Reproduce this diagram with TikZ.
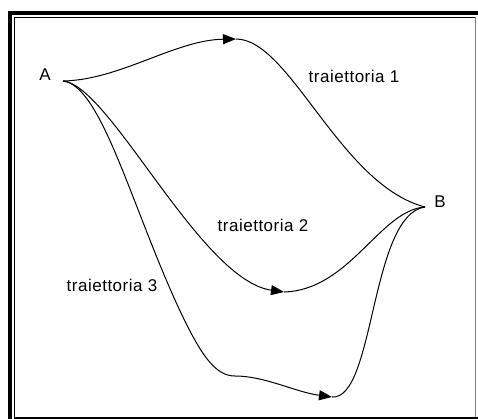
\documentclass[tikz,border=0pt]{standalone}
\usepackage{fontspec}
\setmainfont{Liberation Sans}
\usetikzlibrary{arrows.meta}
\tikzset{
  lbl/.style={inner sep=0pt, font=\fontsize{17}{20}\selectfont\addfontfeature{LetterSpace=3}},
  curve/.style={line width=1pt, black},
  tip/.style={curve, -{Triangle[length=13pt, width=10pt]}},
}
\begin{document}
\begin{tikzpicture}[x=1pt, y=-1pt]
\useasboundingbox (0,0) rectangle (478,419);
% frame
\fill[black] (8,11) rectangle (12,419);
\fill[black] (8,11) rectangle (478,15);
\draw[line width=1pt] (476,417.5) -- (14.5,417.5) -- (14.5,17.5) -- (476,17.5);
\draw[line width=1pt, gray] (475.5,17.5) -- (475.5,418);
\fill[black] (14,417) rectangle (478,419);
% labels
\node[lbl] (A) at (45,75) {A};
\node[lbl] (B) at (440,202) {B};
\node[lbl] (t1) at (354,76) {traiettoria 1};
\node[lbl] (t2) at (263,225) {traiettoria 2};
\node[lbl] (t3) at (112,285) {traiettoria 3};
% points
\coordinate (pa) at (63,81);
\coordinate (pb) at (425,207);
\coordinate (m1) at (236,39);
\coordinate (m2) at (284,292);
\coordinate (m3) at (332,397);
% trajectory 1
\draw[tip] (pa) .. controls (120,80) and (175,40) .. (m1);
\draw[curve] (m1) .. controls (290,39) and (340,185) .. (pb);
% trajectory 2
\draw[tip] (pa) .. controls (110,85) and (200,280) .. (m2);
\draw[curve] (m2) .. controls (350,290) and (380,210) .. (pb);
% trajectory 3
\draw[curve] (pa) .. controls (100,85) and (130,200) .. (175,300)
  .. controls (200,355) and (215,376) .. (235,376);
\draw[tip] (235,376) .. controls (265,376) and (295,392) .. (m3);
\draw[curve] (m3) .. controls (375,400) and (370,215) .. (pb);
\end{tikzpicture}
\end{document}
